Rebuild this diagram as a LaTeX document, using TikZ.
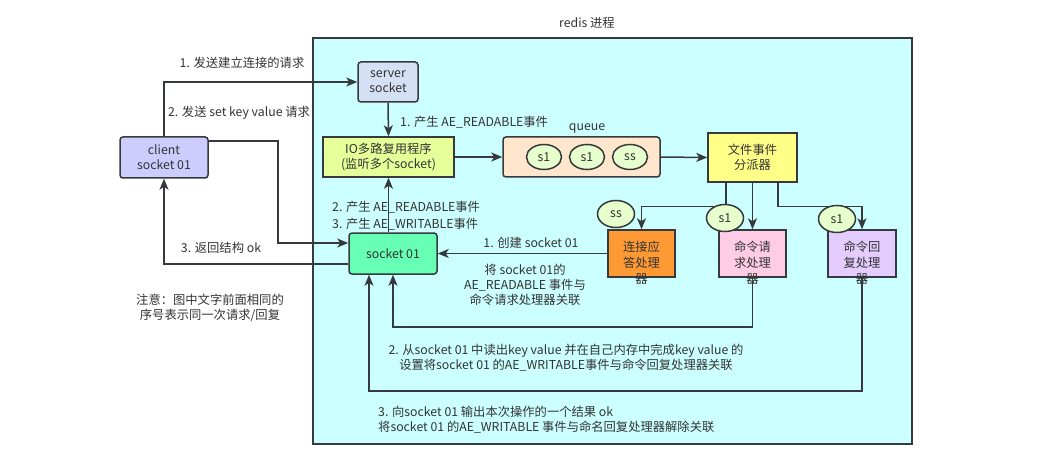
\documentclass[tikz,border=0pt]{standalone}
\usepackage{fontspec}
\setmainfont{Noto Sans CJK SC}
\usepackage{xcolor}
\usetikzlibrary{arrows.meta,shapes.geometric}
\tikzset{every picture/.append style={font=\fontsize{12.3}{14.8}\selectfont}}
\definecolor{redisbg}{HTML}{CCFFFF}
\definecolor{linegray}{HTML}{36393D}
\definecolor{textgray}{HTML}{333333}
\definecolor{clientfill}{HTML}{CCCCFF}
\definecolor{serverfill}{HTML}{D4E1F5}
\definecolor{iofill}{HTML}{E6FF99}
\definecolor{queuefill}{HTML}{FFE6CC}
\definecolor{evtfill}{HTML}{E6FFCC}
\definecolor{dispfill}{HTML}{FFFF88}
\definecolor{acceptfill}{HTML}{FF9933}
\definecolor{reqfill}{HTML}{FFCCE6}
\definecolor{replyfill}{HTML}{E5CCFF}
\definecolor{sockfill}{HTML}{66FFB3}

\begin{document}
\begin{tikzpicture}[x=1pt,y=-1pt,
    box/.style={draw=linegray,line width=1.5pt,align=center,inner sep=0pt,text=textgray},
    rbox/.style={box,rounded corners=3pt},
    evt/.style={ellipse,draw=linegray,line width=1.5pt,fill=evtfill,text=textgray,inner sep=0pt,minimum width=35pt,minimum height=25pt},
    arr/.style={draw=linegray,line width=1.5pt,-{Stealth[length=11pt,width=9pt,inset=3pt]}},
    lbl/.style={text=textgray,inner sep=0pt,align=center}]
  \useasboundingbox (0,0) rectangle (1053,468);
  % redis process
  \node[draw=linegray,line width=1.2pt,fill=redisbg,minimum width=599pt,minimum height=406pt,inner sep=0pt] (redis) at (612.5,241) {};
  \node[lbl] (redislbl) at (587,23) {redis 进程};

  % boxes
  \node[rbox,fill=clientfill,minimum width=88pt,minimum height=41pt] (client) at (164,157.5) {client\\socket 01};
  \node[rbox,fill=serverfill,minimum width=60pt,minimum height=40pt] (server) at (388,82) {server\\socket};
  \node[box,fill=iofill,minimum width=131pt,minimum height=40pt] (io) at (388.5,157) {IO多路复用程序\\(监听多个socket)};
  \node[rbox,fill=queuefill,minimum width=157pt,minimum height=40pt] (queue) at (581.5,157) {};
  \node[lbl] (queuelbl) at (587,128) {queue};
  \node[box,fill=dispfill,minimum width=89pt,minimum height=49pt] (disp) at (752.5,157.5) {文件事件\\分派器};
  \node[box,fill=acceptfill,minimum width=67pt,minimum height=47pt] (accept) at (641.5,253.5) {};
  \node[box,fill=reqfill,minimum width=67pt,minimum height=47pt] (req) at (752.5,253.5) {};
  \node[box,fill=replyfill,minimum width=68pt,minimum height=47pt] (reply) at (862,253.5) {};
  \node[lbl,align=center] (accepttxt) at (641.5,262.5) {连接应\\[1pt]答处理\\[1pt]器};
  \node[lbl,align=center] (reqtxt) at (752.5,262.5) {命令请\\[1pt]求处理\\[1pt]器};
  \node[lbl,align=center] (replytxt) at (862,262.5) {命令回\\[1pt]复处理\\[1pt]器};
  \node[rbox,fill=sockfill,minimum width=88pt,minimum height=41pt] (sock) at (393,253.5) {socket 01};

  % connectors
  \draw[arr] (client.north) |- (server.west);
  \draw[arr] ([yshift=-5pt]client.north east) -- ++(69,0) |- ([yshift=10.5pt]sock.west);
  \draw[arr] ([yshift=-10.5pt]sock.west) -| (client.south);
  \draw[arr] (server.south) -- (io.north);
  \draw[arr] (sock.north -| io.south) -- (io.south);
  \draw[arr] (io.east) -- (queue.west);
  \draw[arr] (queue.east) -- (disp.west);
  \draw[arr] ([xshift=-26.5pt]disp.south) -- ++(0,24) -| (accept.north);
  \draw[arr] (disp.south -| req.north) -- (req.north);
  \draw[arr] ([xshift=25.5pt]disp.south) -- ++(0,24) -| (reply.north);
  \draw[arr] (accept.west) -- (sock.east);
  \draw[arr] (req.south) -- ++(0,49) -| (sock.south);
  \draw[arr] (reply.south) -- ++(0,113) -| ([xshift=-24pt]sock.south);

  % events
  \node[evt] (q1) at (544,157) {s1};
  \node[evt] (q2) at (587,157) {s1};
  \node[evt] (q3) at (630,157) {ss};
  \node[evt,minimum width=37pt,minimum height=27pt] (e1) at (616,214) {ss};
  \node[evt,minimum width=37pt,minimum height=27pt] (e2) at (725,218) {s1};
  \node[evt,minimum width=37pt,minimum height=27pt] (e3) at (837,219) {s1};

  % labels
  \node[lbl] (l1) at (242,63) {1. 发送建立连接的请求};
  \node[lbl] (l2) at (239,113) {2. 发送 set key value 请求};
  \node[lbl] (l3) at (221,248) {3. 返回结构 ok};
  \node[lbl,anchor=west] (l4) at (400,122) {1. 产生 AE\_READABLE事件};
  \node[lbl,anchor=west,align=left] (l5) at (332,215.5) {2. 产生 AE\_READABLE事件\\[2.5pt]3. 产生 AE\_WRITABLE事件};
  \node[lbl] (l6) at (531,243) {1. 创建 socket 01};
  \node[lbl] (l7) at (525,285) {将 socket 01的\\[0.5pt]AE\_READABLE 事件与\\[0.5pt]命令请求处理器关联};
  \node[lbl] (note) at (210,308) {注意：图中文字前面相同的\\序号表示同一次请求/回复};
  \node[lbl] (l8) at (566,357.5) {2. 从socket 01 中读出key value 并在自己内存中完成key value 的\\设置将socket 01 的AE\_WRITABLE事件与命令回复处理器关联};
  \node[lbl,anchor=west,align=left] (l9) at (378,420) {3. 向socket 01 输出本次操作的一个结果 ok\\将socket 01 的AE\_WRITABLE 事件与命名回复处理器解除关联};
\end{tikzpicture}
\end{document}
